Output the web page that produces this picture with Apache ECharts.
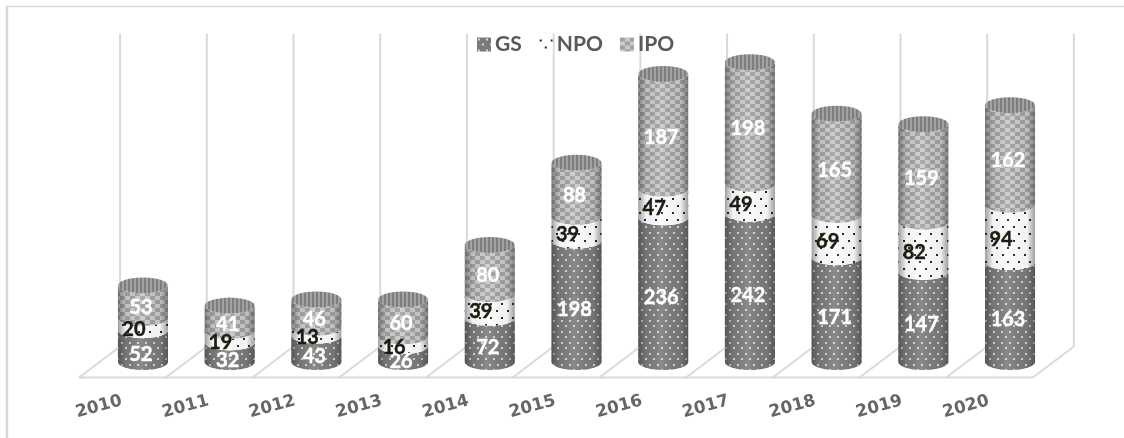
<!DOCTYPE html>
<html>
<head>
<meta charset="utf-8">
<script src="https://cdn.jsdelivr.net/npm/echarts@6/dist/echarts.min.js"></script>
<style>
html,body{margin:0;padding:0;background:#fff;}
#chartmain{width:1124px;height:438px;}
</style>
</head>
<body>
<div id="chartmain"></div>
<script>
var years = ['2010','2011','2012','2013','2014','2015','2016','2017','2018','2019','2020'];
var gs  = [52,32,43,26,72,198,236,242,171,147,163];
var npo = [20,19,13,16,39,39,47,49,69,82,94];
var ipo = [53,41,46,60,80,88,187,198,165,159,162];

// fill patterns
function tile(w,h,draw){
	var c = document.createElement('canvas');
	c.width = w; c.height = h;
	draw(c.getContext('2d'));
	return {image:c, repeat:'repeat'};
}
var gsFill = tile(8,11,function(g){
	g.fillStyle='#7a7a7a'; g.fillRect(0,0,8,11);
	g.fillStyle='#d4d4d4'; g.fillRect(1,1,2,2); g.fillRect(5,6,2,2);
});
var npoFill = tile(11,14,function(g){
	g.fillStyle='#fff'; g.fillRect(0,0,11,14);
	g.fillStyle='#222'; g.fillRect(1,2,2,2); g.fillRect(6,9,2,2);
});
var ipoFill = tile(10,8,function(g){
	g.fillStyle='#cacaca'; g.fillRect(0,0,10,8);
	g.fillStyle='#a0a0a0'; g.fillRect(0,0,5,4); g.fillRect(5,4,5,4);
});
var topFill = tile(4,4,function(g){
	g.fillStyle='#a2a2a2'; g.fillRect(0,0,4,4);
	g.fillStyle='#7e7e7e'; g.fillRect(0,0,2,4);
});
var shade = {type:'linear',x:0,y:0,x2:1,y2:0,colorStops:[
	{offset:0,color:'rgba(40,40,40,0.45)'},
	{offset:0.16,color:'rgba(40,40,40,0.06)'},
	{offset:0.45,color:'rgba(255,255,255,0.12)'},
	{offset:0.84,color:'rgba(40,40,40,0.06)'},
	{offset:1,color:'rgba(40,40,40,0.45)'}
]};

var RX = 25, RY = 8, DEPTH_X = 20.5, DEPTH_Y = 15.5;

function arc(cx,cy,from,to){
	var pts = [];
	for(var i=0;i<=24;i++){
		var t = from+(to-from)*i/24;
		pts.push([cx+RX*Math.cos(t),cy+RY*Math.sin(t)]);
	}
	return pts;
}

// one cylinder piece of the stack, layer keeps the pieces in order, labels stay on top
function piece(fill,textColor,dx,dy,layer,isTop){
	return function(params,api){
		var i = api.value(0);
		var lo = api.coord([i,api.value(1)]);
		var hi = api.coord([i,api.value(2)]);
		var cx = lo[0];
		var body = arc(cx,lo[1],Math.PI,0).concat(arc(cx,hi[1],0,Math.PI));
		var kids = [
			{type:'polygon',z2:layer,shape:{points:body},style:{fill:fill}},
			{type:'polygon',z2:layer+1,shape:{points:body},style:{fill:shade}}
		];
		if(isTop){
			kids.push({type:'polygon',z2:layer+2,shape:{points:arc(cx,hi[1],0,Math.PI*2)},style:{fill:topFill}});
		}
		kids.push({type:'text',z2:100,x:cx+dx,y:(lo[1]+hi[1])/2+dy,style:{
			text:String(api.value(2)-api.value(1)),
			fill:textColor,
			stroke:textColor,
			lineWidth:0.4,
			font:'bold 20px Lato',
			align:'center',
			verticalAlign:'middle'
		}});
		return {type:'group',children:kids};
	};
}

// floor and back wall, one bay per category
function frame(params,api){
	var i = api.value(0);
	var base = api.coord([i,0]);
	var w = api.size([1,0])[0];
	var fy = base[1]+DEPTH_Y;
	var by = base[1]-DEPTH_Y;
	var topY = api.coord([i,536])[1];
	var left = base[0]-w/2;
	var line = {stroke:'#d9d9d9',lineWidth:2,fill:null};
	var kids = [
		{type:'line',shape:{x1:left-DEPTH_X,y1:fy,x2:left+w-DEPTH_X,y2:fy},style:line},
		{type:'line',shape:{x1:left-DEPTH_X,y1:fy,x2:left+DEPTH_X,y2:by},style:line},
		{type:'line',shape:{x1:left+DEPTH_X,y1:by,x2:left+DEPTH_X,y2:topY},style:line}
	];
	if(i===years.length-1){
		kids.push({type:'line',shape:{x1:left+w-DEPTH_X,y1:fy,x2:left+w+DEPTH_X,y2:by},style:line});
		kids.push({type:'line',shape:{x1:left+w+DEPTH_X,y1:by,x2:left+w+DEPTH_X,y2:topY},style:line});
	}
	return {type:'group',children:kids};
}

var gsData = [], npoData = [], ipoData = [], bays = [];
for(var k=0;k<years.length;k++){
	gsData.push([k,0,gs[k]]);
	npoData.push([k,gs[k],gs[k]+npo[k]]);
	ipoData.push([k,gs[k]+npo[k],gs[k]+npo[k]+ipo[k]]);
	bays.push([k]);
}

var option = {
	animation:false,
	backgroundColor:'#fff',
	graphic:[
		{type:'line',shape:{x1:6,y1:6.5,x2:1124,y2:6.5},style:{stroke:'#d9d9d9',lineWidth:1.5}},
		{type:'line',shape:{x1:7,y1:6,x2:7,y2:438},style:{stroke:'#d9d9d9',lineWidth:2.5}}
	],
	legend:{
		left:472,
		top:29,
		itemWidth:14,
		itemHeight:14,
		itemGap:17,
		textStyle:{fontFamily:'Lato',fontWeight:'bold',fontSize:21,color:'#595959',padding:[0,0,0,-1]},
		data:[
			{name:'GS',icon:'rect',itemStyle:{color:gsFill}},
			{name:'NPO',icon:'rect',itemStyle:{color:npoFill}},
			{name:'IPO',icon:'rect',itemStyle:{color:ipoFill}}
		]
	},
	grid:{left:99.6,right:70.6,top:31,height:331},
	xAxis:{
		type:'category',
		data:years,
		axisLine:{show:false},
		axisTick:{show:false},
		axisLabel:{
			interval:0,
			rotate:15,
			margin:33,
			padding:[0,22,0,0],
			fontFamily:'DejaVu Sans',
			fontWeight:'bold',
			fontSize:17,
			color:'#666'
		}
	},
	yAxis:{type:'value',min:0,max:540,show:false,splitLine:{show:false}},
	series:[
		{type:'custom',name:'frame',silent:true,z:1,renderItem:frame,encode:{x:0,y:-1},data:bays},
		{type:'custom',name:'GS',z:2,renderItem:piece(gsFill,'#fff',-2,8,1,false),encode:{x:0,y:[1,2]},data:gsData},
		{type:'custom',name:'NPO',z:2,renderItem:piece(npoFill,'#1c1c10',-9,6,4,false),encode:{x:0,y:[1,2]},data:npoData},
		{type:'custom',name:'IPO',z:2,renderItem:piece(ipoFill,'#fff',-2,6,7,true),encode:{x:0,y:[1,2]},data:ipoData}
	]
};

var myChart = echarts.init(document.getElementById('chartmain'));
myChart.setOption(option);
</script>
</body>
</html>
